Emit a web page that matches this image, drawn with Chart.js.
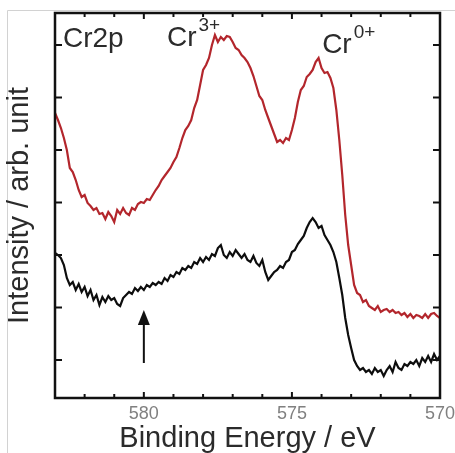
<!DOCTYPE html>
<html><head><meta charset="utf-8">
<script src="https://cdn.jsdelivr.net/npm/chart.js@4.4.1/dist/chart.umd.min.js"></script>
<style>
html,body{margin:0;padding:0;background:#fff;}
#wrap{position:relative;width:455px;height:453px;overflow:hidden;}
canvas{display:block;}
</style></head><body>
<div id="wrap"><canvas id="c" width="455" height="453"></canvas></div>
<script>
// Binding energy grid (eV)
const energies = [
583.0,582.9,582.8,582.7,582.6,582.5,582.4,582.3,582.2,582.1,
582.0,581.9,581.8,581.7,581.6,581.5,581.4,581.3,581.2,581.1,
581.0,580.9,580.8,580.7,580.6,580.5,580.4,580.3,580.2,580.1,
580.0,579.9,579.8,579.7,579.6,579.5,579.4,579.3,579.2,579.1,
579.0,578.9,578.8,578.7,578.6,578.5,578.4,578.3,578.2,578.1,
578.0,577.9,577.8,577.7,577.6,577.5,577.4,577.3,577.2,577.1,
577.0,576.9,576.8,576.7,576.6,576.5,576.4,576.3,576.2,576.1,
576.0,575.9,575.8,575.7,575.6,575.5,575.4,575.3,575.2,575.1,
575.0,574.9,574.8,574.7,574.6,574.5,574.4,574.3,574.2,574.1,
574.0,573.9,573.8,573.7,573.6,573.5,573.4,573.3,573.2,573.1,
573.0,572.9,572.8,572.7,572.6,572.5,572.4,572.3,572.2,572.1,
572.0,571.9,571.8,571.7,571.6,571.5,571.4,571.3,571.2,571.1,
571.0,570.9,570.8,570.7,570.6,570.5,570.4,570.3,570.2,570.1,
570.0];
// Upper (red) spectrum, arb. unit
const redSpectrum = [
285,278,270,260,248,230,226,218,208,201,
203,195,192,188,190,184,185,179,186,182,
176,188,184,190,185,183,190,188,194,196,
195,199,198,203,208,212,218,222,226,230,
236,241,250,260,268,272,278,290,298,313,
328,333,340,353,363,356,361,358,362,361,
356,350,348,343,340,336,330,322,312,302,
298,288,280,272,264,256,258,255,260,258,
268,280,296,308,312,321,324,328,336,340,
330,325,326,320,310,288,258,223,183,153,
133,113,105,103,96,98,92,90,88,92,
86,88,89,86,88,85,86,83,85,81,
84,80,83,82,80,84,80,84,85,82,
80];
// Lower (black) spectrum, arb. unit
const blackSpectrum = [
145,143,140,133,120,113,116,108,114,106,
111,102,108,98,103,93,101,96,102,98,
100,94,92,100,103,106,104,110,107,111,
108,113,111,115,113,116,114,120,117,123,
121,126,124,130,128,132,130,136,134,140,
136,141,138,144,142,150,153,143,140,146,
142,148,144,140,144,138,136,142,135,132,
138,126,118,122,126,128,132,130,136,138,
146,148,154,158,162,170,176,180,176,170,
172,163,158,153,146,136,120,103,80,63,
50,38,32,28,30,26,28,24,30,26,
28,22,28,32,26,36,30,28,34,32,
36,34,38,32,40,36,42,36,44,38,
42];
const xTickLabels = [580, 575, 570];
const xMinorTicks = [571,572,573,574,576,577,578,579,581,582];
const yTickValues = [38, 90.5, 143, 195.5, 248, 300.5, 353];
const peakLabelTexts = ['Cr2p', 'Cr', 'Cr'];
const peakLabelSups = ['', '3+', '0+'];
const peakLabelAt = [[582.73, 351], [579.22, 352], [573.98, 345]]; // anchor in data units
const arrowAt = {energy: 580, from: 35, to: 88};

const FONT = '"Liberation Sans", Arial, Helvetica, sans-serif';

const framePlugin = {
  id: 'frame',
  beforeDraw(chart) {
    const ctx = chart.ctx;
    ctx.save();
    ctx.strokeStyle = '#d2d2d2';
    ctx.lineWidth = 1;
    ctx.beginPath();
    ctx.moveTo(7.5, 453); ctx.lineTo(7.5, 10.5); ctx.lineTo(455, 10.5);
    ctx.stroke();
    ctx.restore();
  },
  afterDraw(chart) {
    const {ctx, chartArea: a, scales: {x, y}} = chart;
    ctx.save();
    ctx.strokeStyle = '#111';
    ctx.lineWidth = 2.5;
    ctx.strokeRect(a.left, a.top, a.right - a.left, a.bottom - a.top);
    ctx.lineWidth = 2;
    const seg = (x1, y1, x2, y2) => { ctx.beginPath(); ctx.moveTo(x1, y1); ctx.lineTo(x2, y2); ctx.stroke(); };
    yTickValues.forEach(v => {
      const py = y.getPixelForValue(v);
      seg(a.left, py, a.left + 7, py);
      seg(a.right, py, a.right - 7, py);
    });
    xMinorTicks.forEach(v => {
      const px = x.getPixelForValue(v);
      seg(px, a.bottom, px, a.bottom - 4);
      seg(px, a.top, px, a.top + 4);
    });
    xTickLabels.forEach(v => {
      const px = x.getPixelForValue(v);
      seg(px, a.bottom, px, a.bottom - 6);
      seg(px, a.top, px, a.top + 6);
    });
    // peak labels
    ctx.fillStyle = '#2b2b2b';
    ctx.textAlign = 'left';
    ctx.textBaseline = 'alphabetic';
    peakLabelTexts.forEach((t, i) => {
      const px = x.getPixelForValue(peakLabelAt[i][0]);
      const py = y.getPixelForValue(peakLabelAt[i][1]);
      ctx.font = '28px ' + FONT;
      ctx.fillText(t, px, py);
      if (peakLabelSups[i]) {
        const w = ctx.measureText(t).width;
        ctx.font = '19px ' + FONT;
        ctx.fillText(peakLabelSups[i], px + w + 2, py - 15);
      }
    });
    // arrow
    const ax = x.getPixelForValue(arrowAt.energy);
    const y0 = y.getPixelForValue(arrowAt.from);
    const y1 = y.getPixelForValue(arrowAt.to);
    ctx.strokeStyle = '#111';
    ctx.lineWidth = 2;
    seg(ax, y0, ax, y1 + 12);
    ctx.fillStyle = '#111';
    ctx.beginPath();
    ctx.moveTo(ax, y1); ctx.lineTo(ax - 6, y1 + 15); ctx.lineTo(ax + 6, y1 + 15); ctx.closePath();
    ctx.fill();
    ctx.restore();
  }
};

new Chart(document.getElementById('c'), {
  type: 'line',
  data: {
    datasets: [
      {label: 'red', data: energies.map((e, i) => ({x: e, y: redSpectrum[i]})), borderColor: '#b3262c', borderWidth: 2.2, pointRadius: 0, tension: 0, fill: false},
      {label: 'black', data: energies.map((e, i) => ({x: e, y: blackSpectrum[i]})), borderColor: '#0d0d0d', borderWidth: 2.2, pointRadius: 0, tension: 0, fill: false}
    ]
  },
  options: {
    responsive: false,
    animation: false,
    devicePixelRatio: 1,
    layout: {padding: {top: 13, right: 15, left: 0, bottom: 0}},
    plugins: {legend: {display: false}, tooltip: {enabled: false}},
    scales: {
      x: {
        type: 'linear', min: 570, max: 583, reverse: true,
        grid: {display: false, drawTicks: false},
        border: {display: false},
        ticks: {color: '#808080', font: {family: FONT, size: 18}, padding: 5, maxRotation: 0},
        afterBuildTicks: s => { s.ticks = xTickLabels.map(v => ({value: v})); },
        afterFit: s => { s.height = 55; s.paddingLeft = 0; s.paddingRight = 0; },
        title: {display: true, text: 'Binding Energy / eV', color: '#2b2b2b', font: {family: FONT, size: 29, lineHeight: 1.0}, padding: {top: 0, bottom: 0}}
      },
      y: {
        type: 'linear', min: 0, max: 385,
        grid: {display: false, drawTicks: false},
        border: {display: false},
        ticks: {display: false},
        afterBuildTicks: s => { s.ticks = yTickValues.map(v => ({value: v})); },
        afterFit: s => { s.width = 55; s.paddingTop = 0; s.paddingBottom = 0; },
        title: {display: true, text: 'Intensity / arb. unit', color: '#2b2b2b', font: {family: FONT, size: 29, lineHeight: 1.2}, padding: {top: 3, bottom: 0}}
      }
    }
  },
  plugins: [framePlugin]
});
</script>
</body></html>
